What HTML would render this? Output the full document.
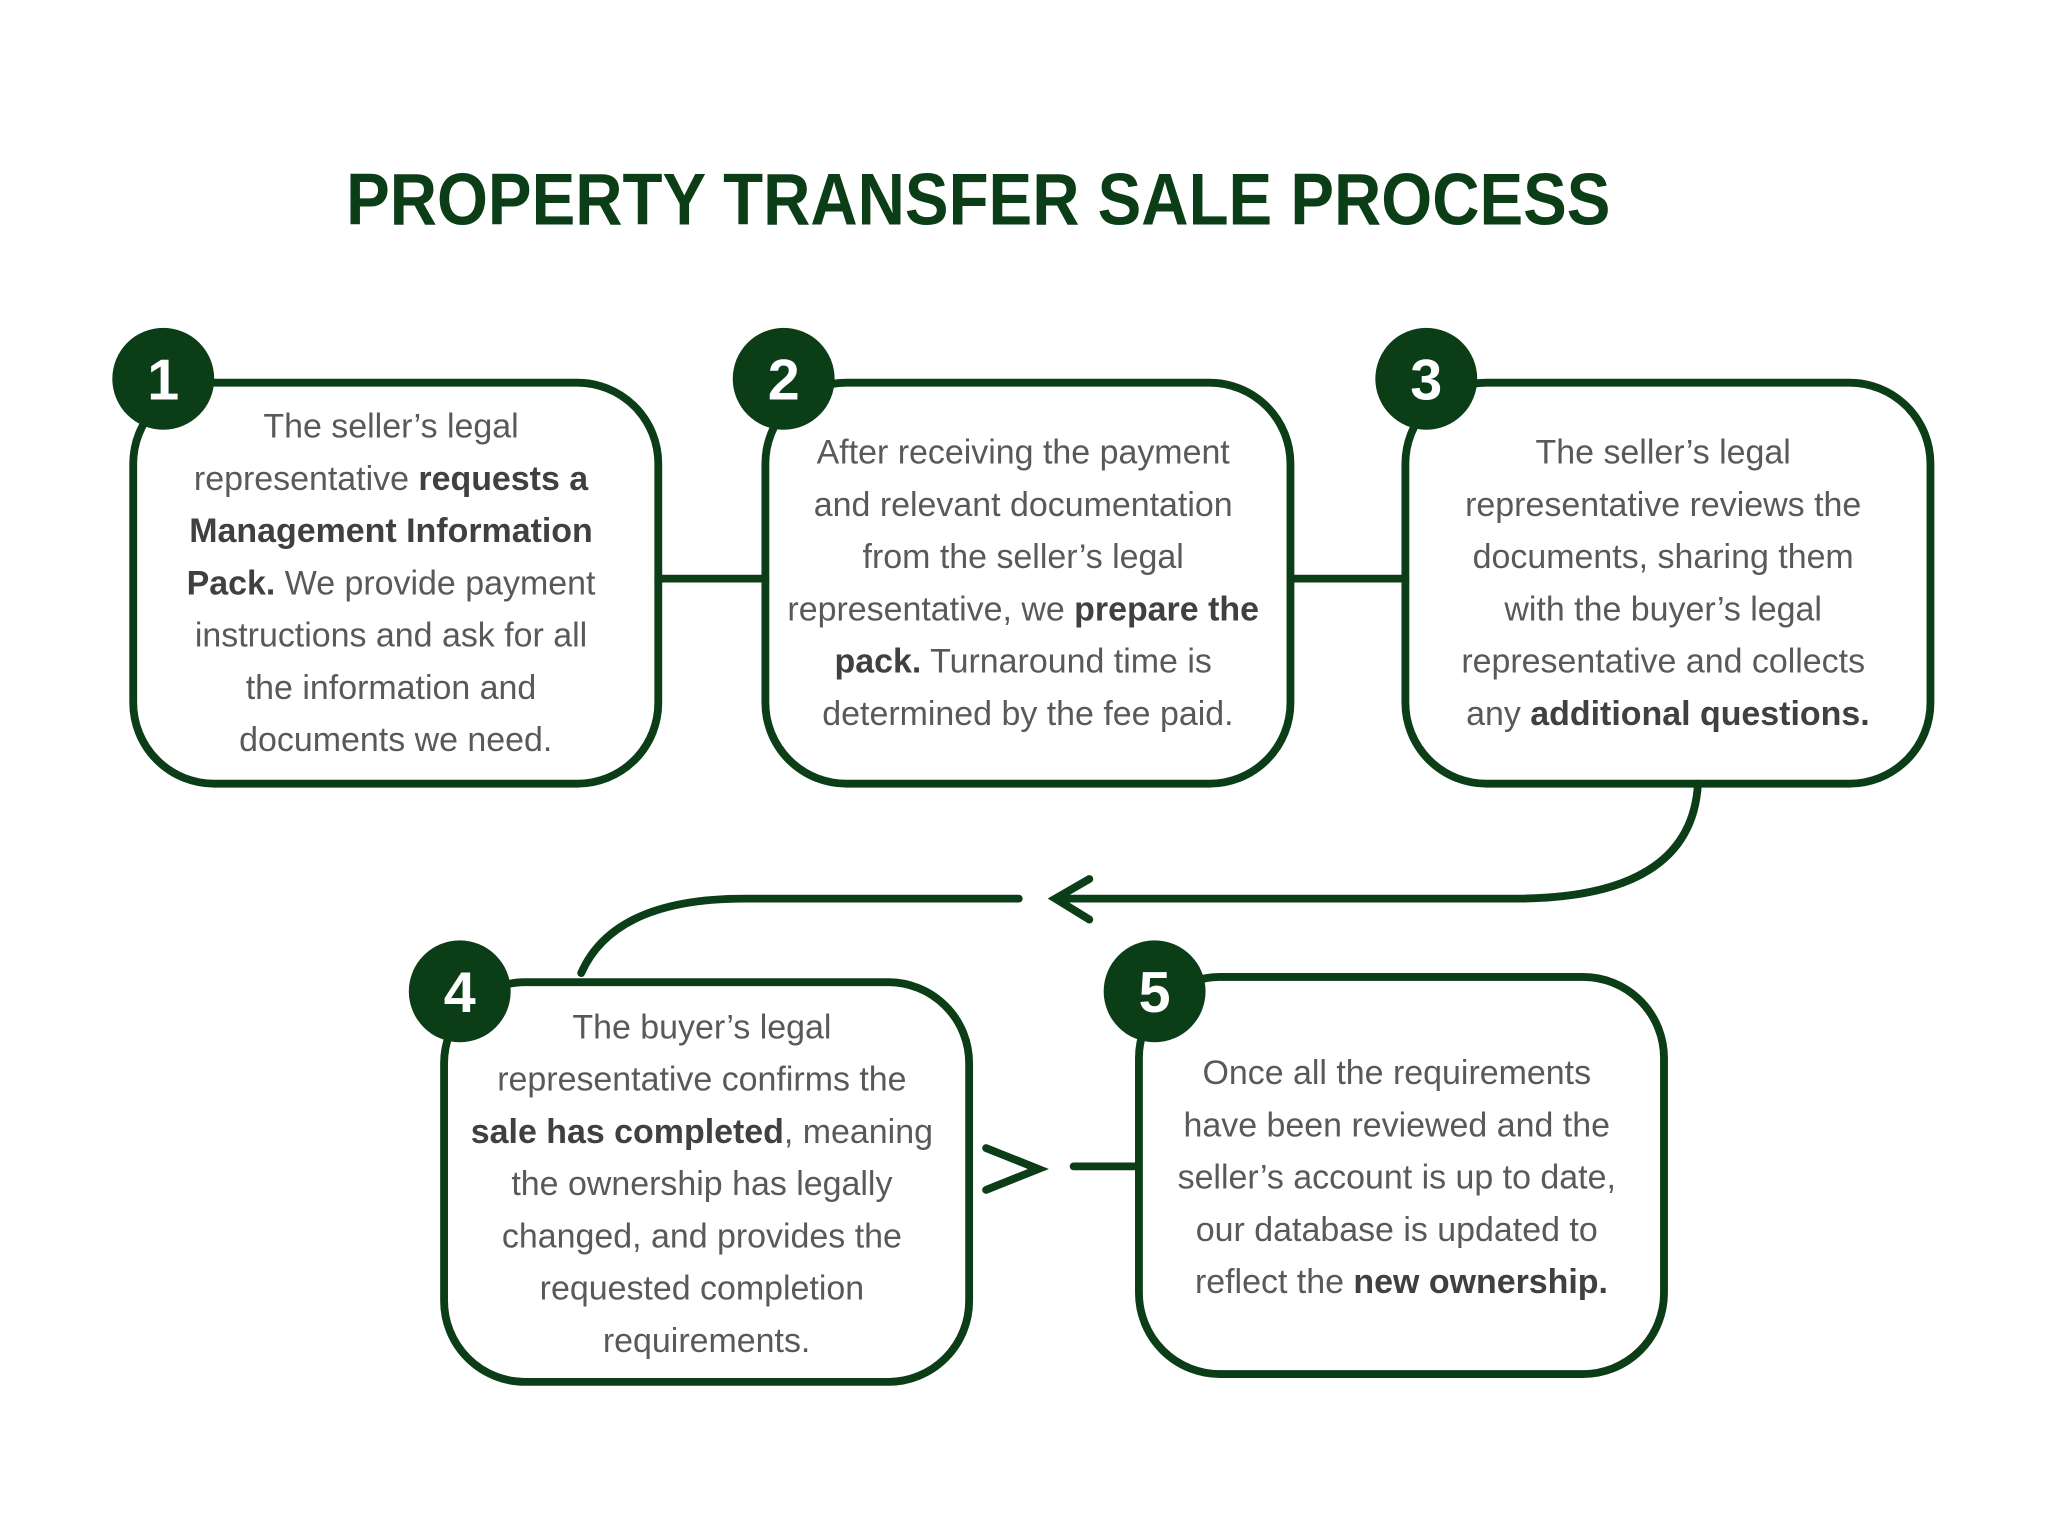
<!DOCTYPE html>
<html><head><meta charset="utf-8"><style>
html,body{margin:0;padding:0;background:#fff}
svg{display:block}
.t{font-family:"Liberation Sans",sans-serif;font-size:26px;fill:#58595b;text-anchor:middle}
.t tspan.b{font-weight:bold;fill:#3f4042}
.n{font-family:"Liberation Sans",sans-serif;font-size:44px;font-weight:bold;fill:#fff;text-anchor:middle}
</style></head><body>
<svg width="2048" height="1536" viewBox="0 0 1568 1176" xmlns="http://www.w3.org/2000/svg">
<rect width="1568" height="1176" fill="#fff"/>
<text x="749" y="172" font-family="Liberation Sans,sans-serif" font-weight="bold" font-size="56" fill="#0b3d17" text-anchor="middle" textLength="968" lengthAdjust="spacingAndGlyphs">PROPERTY TRANSFER SALE PROCESS</text>
<g fill="none" stroke="#0b3d17" stroke-width="6" stroke-linecap="round">
<line x1="504" y1="443" x2="586" y2="443"/>
<line x1="988" y1="443" x2="1076" y2="443"/>
<path d="M1300 600 Q1295 688 1160 688 L810 688"/>
<polyline points="834,673 808,688 834,704"/>
<path d="M780 688 L570 688 Q470 688 445 745"/>
<polyline points="755,879 795,895 755,911"/>
<line x1="822" y1="893" x2="870" y2="893"/>
<rect x="102" y="293" width="402" height="307" rx="62"/>
<rect x="586" y="293" width="402" height="307" rx="62"/>
<rect x="1076" y="293" width="402" height="307" rx="62"/>
<rect x="340" y="752" width="402" height="306" rx="62"/>
<rect x="872" y="748" width="402" height="304" rx="62"/>
</g>
<g fill="#0b3d17">
<circle cx="125" cy="290" r="39"/><circle cx="600" cy="290" r="39"/><circle cx="1092" cy="290" r="39"/>
<circle cx="352" cy="759" r="39"/><circle cx="884" cy="759" r="39"/>
</g>
<text class="n" x="125" y="306">1</text><text class="n" x="600" y="306">2</text><text class="n" x="1092" y="306">3</text>
<text class="n" x="352" y="775">4</text><text class="n" x="884" y="775">5</text>
<text class="t">
<tspan x="303" y="335">The seller’s legal</tspan>
<tspan x="303" y="375">representative <tspan class="b">requests a</tspan></tspan>
<tspan x="303" y="415" class="b">Management Information</tspan>
<tspan x="303" y="455"><tspan class="b">Pack.</tspan>  We provide payment</tspan>
<tspan x="303" y="495">instructions and ask for all</tspan>
<tspan x="303" y="535">the information and</tspan>
<tspan x="303" y="575">documents we need.</tspan>
</text>
<text class="t">
<tspan x="787" y="355">After receiving the payment</tspan>
<tspan x="787" y="395">and relevant documentation</tspan>
<tspan x="787" y="435">from the seller’s legal</tspan>
<tspan x="787" y="475">representative, we <tspan class="b">prepare the</tspan></tspan>
<tspan x="787" y="515"><tspan class="b">pack.</tspan> Turnaround time is</tspan>
<tspan x="787" y="555">determined by the fee paid.</tspan>
</text>
<text class="t">
<tspan x="1277" y="355">The seller’s  legal</tspan>
<tspan x="1277" y="395">representative reviews the</tspan>
<tspan x="1277" y="435">documents, sharing them</tspan>
<tspan x="1277" y="475">with the buyer’s legal</tspan>
<tspan x="1277" y="515">representative and collects</tspan>
<tspan x="1277" y="555">any <tspan class="b">additional questions.</tspan></tspan>
</text>
<text class="t">
<tspan x="541" y="795">The buyer’s legal</tspan>
<tspan x="541" y="835">representative confirms the</tspan>
<tspan x="541" y="875"><tspan class="b">sale has completed</tspan>, meaning</tspan>
<tspan x="541" y="915">the ownership has legally</tspan>
<tspan x="541" y="955">changed, and provides the</tspan>
<tspan x="541" y="995">requested completion</tspan>
<tspan x="541" y="1035">requirements.</tspan>
</text>
<text class="t">
<tspan x="1073" y="830">Once all the requirements</tspan>
<tspan x="1073" y="870">have been reviewed and the</tspan>
<tspan x="1073" y="910">seller’s account is up to date,</tspan>
<tspan x="1073" y="950">our database is updated to</tspan>
<tspan x="1073" y="990">reflect the <tspan class="b">new ownership.</tspan></tspan>
</text>
</svg>
</body></html>
